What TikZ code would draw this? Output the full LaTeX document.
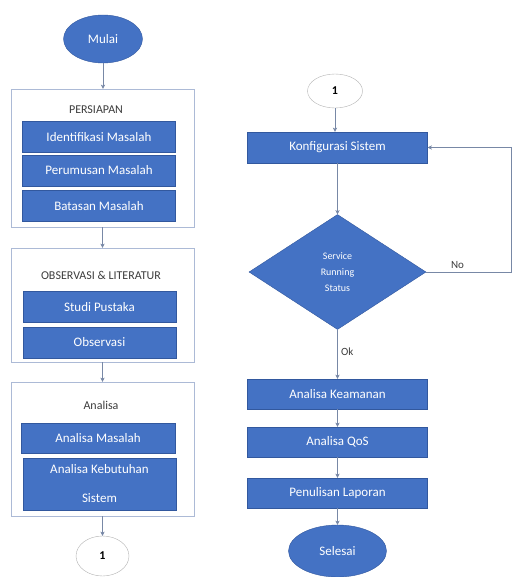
\documentclass[tikz,border=0pt]{standalone}
\usepackage{fontspec}
\setmainfont{Carlito}
\usetikzlibrary{arrows.meta,positioning,shapes.geometric}
\definecolor{office}{RGB}{68,114,196}
\definecolor{officeedge}{RGB}{50,88,158}
\definecolor{frameline}{RGB}{172,186,214}
\definecolor{wire}{RGB}{120,136,166}
\definecolor{ink}{RGB}{60,60,60}
\tikzset{
  >={Stealth[length=1.5mm,width=1.5mm]},
  task/.style={fill=office,draw=officeedge,thin,text=white,minimum width=#1,
    minimum height=30pt,inner sep=1pt,align=center,font=\fontsize{13}{15}\selectfont},
  task/.default=153pt,
  terminal/.style={ellipse,fill=office,draw=officeedge,thin,text=white,inner sep=0pt,
    font=\fontsize{13}{15}\selectfont},
  phase/.style={draw=frameline,thin,minimum width=183pt,minimum height=#1},
  phase title/.style={text=ink,font=\fontsize{12}{14}\selectfont},
  offpage/.style={ellipse,draw=gray!60,fill=white,thin,inner sep=0pt,
    font=\fontsize{12}{14}\selectfont\bfseries},
  decision/.style={diamond,fill=office,draw=officeedge,thin,text=white,inner sep=0pt,
    align=center,font=\fontsize{10}{16}\selectfont},
  flow/.style={->,draw=wire,thin},
  tag/.style={text=ink,font=\fontsize{11}{13}\selectfont},
}

\begin{document}
\begin{tikzpicture}[x=1pt,y=-1pt]
  \useasboundingbox (0,0) rectangle (513,577);
  % left column
  \node[terminal,minimum width=79pt,minimum height=48pt] (mulai) at (103,39) {Mulai};

  \node[phase=138pt] (prep) at (102.5,158) {};
  \node[phase title] (prepT) at (96,110) {PERSIAPAN};
  \foreach \n/\y/\t in {ident/137/Identifikasi Masalah,rumus/170.5/Perumusan Masalah,batas/206/Batasan Masalah}
    \node[task,minimum height=31pt] (\n) at (99,\y) {\t};

  \node[phase=114pt] (obs) at (102.5,305) {};
  \node[phase title] (obsT) at (101,275) {OBSERVASI \& LITERATUR};
  \foreach \n/\y/\t in {studi/307/Studi Pustaka,amati/342.5/Observasi}
    \node[task,minimum height=31pt] (\n) at (99.5,\y) {\t};

  \node[phase=134pt] (ana) at (102.5,449) {};
  \node[phase title] (anaT) at (101,405) {Analisa};
  \node[task=154pt] (anaMasalah) at (98,438) {Analisa Masalah};
  \node[task,minimum height=52pt,font=\fontsize{13}{29}\selectfont] (anaButuh) at (99.5,484) {Analisa Kebutuhan\\Sistem};

  \node[offpage,minimum width=53pt,minimum height=40pt] (conL) at (102.5,556) {1};

  \draw[flow] (mulai.south) -- (mulai.south |- prep.north);
  \draw[flow] (prep.south) -- (obs.north);
  \draw[flow] (obs.south) -- (ana.north);
  \draw[flow] (ana.south) -- (conL.north);

  % right column
  \node[offpage,minimum width=55pt,minimum height=34pt] (conR) at (335,91) {1};
  \node[task=180pt,minimum height=31pt] (konfig) at (337.5,147.5) {Konfigurasi Sistem};
  \node[decision,minimum width=177pt,minimum height=115pt] (status) at (337.5,272) {Service\\Running\\Status};
  \foreach \n/\y/\t in {aman/394/Analisa Keamanan,qos/442/Analisa QoS,lapor/493/Penulisan Laporan}
    \node[task=180pt] (\n) at (337.5,\y) {\t};
  \node[terminal,minimum width=98pt,minimum height=52pt] (selesai) at (337.5,551) {Selesai};
  \coordinate (balik) at (511,272);

  \draw[flow] (conR.south) -- (conR.south |- konfig.north);
  \draw[flow] (konfig) -- (status);
  \draw[flow] (status.east) -- node[tag,above,pos=0.37] {No} (balik) |- (konfig.east);
  \draw[flow] (status.south) -- node[tag,right,pos=0.45] {Ok} (aman.north);
  \draw[flow] (aman) -- (qos);
  \draw[flow] (qos) -- (lapor);
  \draw[flow] (lapor) -- (selesai);
\end{tikzpicture}
\end{document}
